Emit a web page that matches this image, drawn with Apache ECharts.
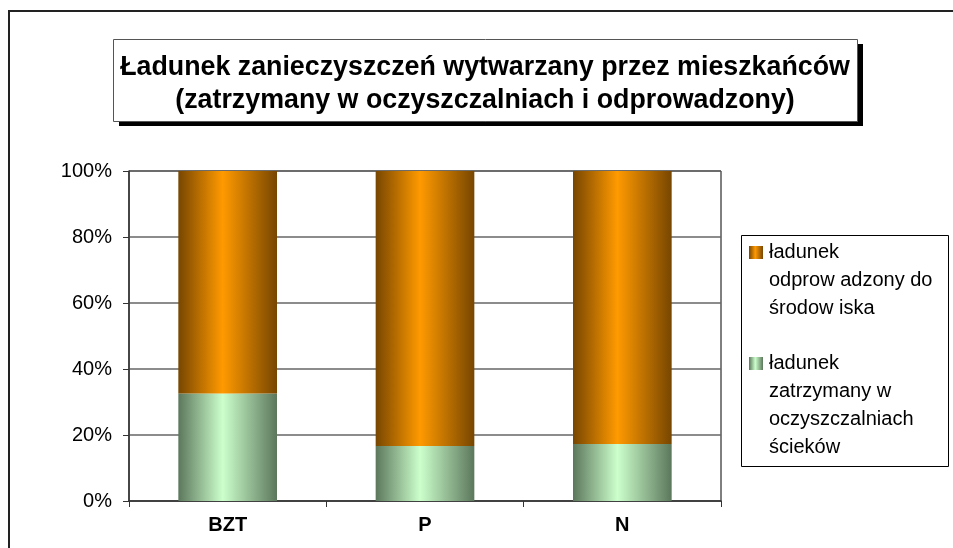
<!DOCTYPE html>
<html>
<head>
<meta charset="utf-8">
<script src="https://cdn.jsdelivr.net/npm/echarts@6/dist/echarts.min.js"></script>
<style>
  html, body { margin: 0; padding: 0; background: #fff; }
  #chart { width: 953px; height: 548px; }
</style>
</head>
<body>
<div id="chart"></div>
<script>
  // dane z wykresu (udział w %)
  const categories = ["BZT", "P", "N"]
  const retained = [32.6, 16.7, 17.3]
  const discharged = [67.4, 83.3, 82.7]
  const seriesNames = ["ładunek zatrzymany w oczyszczalniach ścieków", "ładunek odprowadzony do środowiska"]
  const legendLines = [
    ["ładunek", "odprow adzony do", "środow iska"],
    ["ładunek", "zatrzymany w", "oczyszczalniach", "ścieków"],
  ]
  const yTicks = [0, 20, 40, 60, 80, 100]

  const font = "'Liberation Sans', Arial, sans-serif"

  function barGradient(dark, light) {
    return new echarts.graphic.LinearGradient(0, 0, 1, 0, [
      { offset: 0, color: dark },
      { offset: 0.45, color: light },
      { offset: 1, color: dark },
    ])
  }
  const orange = () => barGradient("#774600", "#ff9a00")
  const green = () => barGradient("#5c775c", "#ccffcc")

  // legenda rysowana ręcznie (ikona przy pierwszej linii tekstu)
  const legendItems = [
    { lines: legendLines[0], fill: orange(), y: 246 },
    { lines: legendLines[1], fill: green(), y: 357 },
  ]
  const legendGraphics = [
    {
      type: "rect",
      shape: { x: 741.5, y: 235.5, width: 207, height: 231 },
      style: { fill: "#fff", stroke: "#000", lineWidth: 1 },
      z: 10,
    },
  ]
  legendItems.forEach((it) => {
    legendGraphics.push({
      type: "rect",
      shape: { x: 749, y: it.y, width: 14, height: 13 },
      style: { fill: it.fill },
      z: 11,
    })
    legendGraphics.push({
      type: "text",
      x: 769,
      y: it.y + 6.5 - 14,
      style: {
        text: it.lines.join("\n"),
        font: "20px " + font,
        lineHeight: 28,
        fill: "#000",
        verticalAlign: "top",
      },
      z: 11,
    })
  })

  const option = {
    animation: false,
    backgroundColor: "#fff",
    title: {
      text: "Ładunek zanieczyszczeń wytwarzany przez mieszkańców\n(zatrzymany w oczyszczalniach i odprowadzony)",
      left: 485,
      top: 51,
      textAlign: "center",
      padding: 0,
      textStyle: {
        fontFamily: font,
        fontSize: 26.8,
        fontWeight: "bold",
        color: "#000",
        lineHeight: 33,
      },
      z: 20,
    },
    grid: {
      left: 129,
      right: 232,
      top: 171,
      bottom: 47,
      show: true,
      borderColor: "#000",
      borderWidth: 1,
      backgroundColor: "#fff",
    },
    xAxis: {
      type: "category",
      data: categories,
      axisLine: { lineStyle: { color: "#333", width: 1.5 } },
      axisTick: { show: true, length: 6, lineStyle: { color: "#333" } },
      axisLabel: {
        margin: 14,
        fontFamily: font,
        fontSize: 20,
        fontWeight: "bold",
        color: "#000",
      },
    },
    yAxis: {
      type: "value",
      min: 0,
      max: 100,
      interval: 20,
      axisLine: { show: true, lineStyle: { color: "#333", width: 1.5 } },
      axisTick: { show: true, length: 6, lineStyle: { color: "#333" } },
      splitLine: { show: true, lineStyle: { color: "#666", width: 1.5 } },
      axisLabel: {
        margin: 17,
        fontFamily: font,
        fontSize: 20,
        color: "#000",
        formatter: (v) => (yTicks.includes(v) ? v + "%" : ""),
      },
    },
    series: [
      {
        name: seriesNames[0],
        type: "bar",
        stack: "all",
        barWidth: "50%",
        data: retained,
        itemStyle: { color: green() },
      },
      {
        name: seriesNames[1],
        type: "bar",
        stack: "all",
        barWidth: "50%",
        data: discharged,
        itemStyle: { color: orange() },
      },
    ],
    graphic: [
      {
        // ramka całego wykresu
        type: "rect",
        shape: { x: 9, y: 11, width: 960, height: 560 },
        style: { fill: "none", stroke: "#222", lineWidth: 2 },
        z: 1,
      },
      {
        // cień ramki tytułu
        type: "rect",
        shape: { x: 119, y: 44, width: 744, height: 82 },
        style: { fill: "#000" },
        z: 5,
      },
      {
        type: "rect",
        shape: { x: 113.5, y: 39.5, width: 744, height: 82 },
        style: { fill: "#fff", stroke: "#555", lineWidth: 1 },
        z: 6,
      },
      ...legendGraphics,
    ],
  }

  const myChart = echarts.init(document.getElementById("chart"))
  myChart.setOption(option)
</script>
</body>
</html>
